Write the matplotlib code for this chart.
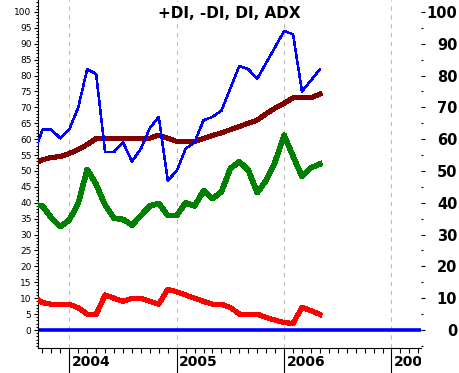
import numpy as np
import matplotlib
matplotlib.use("Agg")
import matplotlib.pyplot as plt
from matplotlib.ticker import FixedLocator, NullFormatter
from matplotlib.transforms import Bbox, TransformedBbox, blended_transform_factory

# month index relative to Jan 2004 (0 = Jan 2004)
months = list(range(-4, 29))
plus_di = [55, 63, 63, 60.3, 63, 70, 82, 80.5, 56, 56, 59, 53, 57, 63.5, 67, 47, 50,
           57, 59, 66, 67, 69, 76, 83, 82, 79, 84, 89, 94, 93, 75, 78.5, 82]
adx = [52, 53.5, 54.3, 54.5, 55.5, 56.8, 58.3, 60.2, 60.3, 60.3, 60.3, 60.3, 60.3, 60.3,
       61.3, 60.3, 59.3, 59.2, 59.3, 60.2, 61.2, 62, 63, 64, 65, 66, 68, 69.8, 71.3, 73,
       73, 73, 74.2]
di = [39.5, 39, 35.3, 32.5, 34.6, 39.8, 50.5, 45.8, 39.3, 35.1, 34.8, 33, 36, 39, 39.8,
      36, 36, 40, 39, 43.8, 41.3, 43.5, 50.8, 52.9, 50.3, 43.2, 47, 52.9, 61.3, 54.7,
      48.2, 51, 52.2]
minus_di = [10.5, 8.6, 8.1, 8.1, 8.1, 7, 5, 4.9, 11, 10, 9, 10, 10, 9, 8.1, 12.8, 12, 11,
            10, 9, 8.1, 8.1, 7.1, 5, 5, 5, 3.9, 3.1, 2.3, 2.1, 7.1, 6.1, 4.9]
years = [2004, 2005, 2006, 2007]
title = "+DI, -DI, DI, ADX"

x = 2004 + np.array(months) / 12.0

W, H = 460, 373
fig = plt.figure(figsize=(W / 100, H / 100), dpi=100)
ax_l, ax_r, ax_b, ax_t = 38, 421, 25, 373
ax = fig.add_axes([ax_l / W, ax_b / H, (ax_r - ax_l) / W, (ax_t - ax_b) / H])

xmin, xmax = 2003.7086, 2007.2747
ymin, ymax = -5.66, 103.77
ax.set_xlim(xmin, xmax)
ax.set_ylim(ymin, ymax)

for yr in years:
    ax.axvline(yr, color="#bdbdbd", lw=0.8, ls=(0, (4, 4)), zorder=1)

ax.axhline(0, color="#0000ff", lw=2.6, zorder=2, solid_capstyle="butt")
ax.plot(x, minus_di, color="#ff0000", lw=3.0, zorder=3, antialiased=False)
ax.plot(x, di, color="#008000", lw=3.3, zorder=3, antialiased=False)
ax.plot(x, adx, color="#800000", lw=2.9, zorder=4, antialiased=False)
ax.plot(x, plus_di, color="#0000ff", lw=1.1, zorder=5, antialiased=False)

ax.text(0.5, (ax_t - ax_b - 14) / (ax_t - ax_b), title, transform=ax.transAxes,
        ha="center", va="center", fontsize=11, fontweight="bold",
        family="DejaVu Sans", color="black")

# spines
for s in ["top", "right"]:
    ax.spines[s].set_visible(False)
for s in ["left", "bottom"]:
    ax.spines[s].set_linewidth(0.8)

# left axis
ax.yaxis.set_major_locator(FixedLocator(np.arange(0, 101, 5)))
ax.yaxis.set_minor_locator(FixedLocator(np.arange(-5, 104, 1)))
ax.tick_params(axis="y", which="major", length=3.2, width=0.8, pad=1.5,
               labelsize=6.5, direction="out")
ax.tick_params(axis="y", which="minor", length=1.6, width=0.8, direction="out")

# bottom axis
ax.xaxis.set_major_locator(FixedLocator(years))
mpos = [2003 + k / 12 for k in range(8, 12 * 4 + 4)]
mpos = [m for m in mpos if xmin <= m <= xmax and abs(m - round(m)) > 1e-6]
ax.xaxis.set_minor_locator(FixedLocator(mpos))
ax.xaxis.set_major_formatter(NullFormatter())
ax.tick_params(axis="x", which="major", length=18, width=0.8, direction="out")
ax.tick_params(axis="x", which="minor", length=3.8, width=0.8, direction="out")

# year labels clipped at axes right edge
clipbox = TransformedBbox(Bbox([[0, 0], [ax_r / W, 1]]), fig.transFigure)
trans = blended_transform_factory(ax.transData, fig.transFigure)
for yr in years:
    t = ax.text(yr + 2.4 / 107.4, (H - 362.5) / H, str(yr), transform=trans,
                ha="left", va="center", fontsize=10, fontweight="bold",
                family="DejaVu Sans", clip_on=True)
    t.set_clip_box(clipbox)

# right axis
ax2 = ax.twinx()
ax2.set_ylim(ymin, ymax)
for s in ax2.spines.values():
    s.set_visible(False)
ax2.yaxis.set_major_locator(FixedLocator(np.arange(0, 101, 10)))
ax2.yaxis.set_minor_locator(FixedLocator(np.arange(-5, 100, 10)))
ax2.tick_params(axis="y", which="major", length=2.6, width=0.8, pad=23.5,
                labelsize=10.5, direction="out")
ax2.tick_params(axis="y", which="minor", length=1.5, width=0.8, direction="out")
for lab in ax2.get_yticklabels():
    lab.set_horizontalalignment("right")
    lab.set_fontweight("bold")

fig.savefig("out.png", dpi=100)
